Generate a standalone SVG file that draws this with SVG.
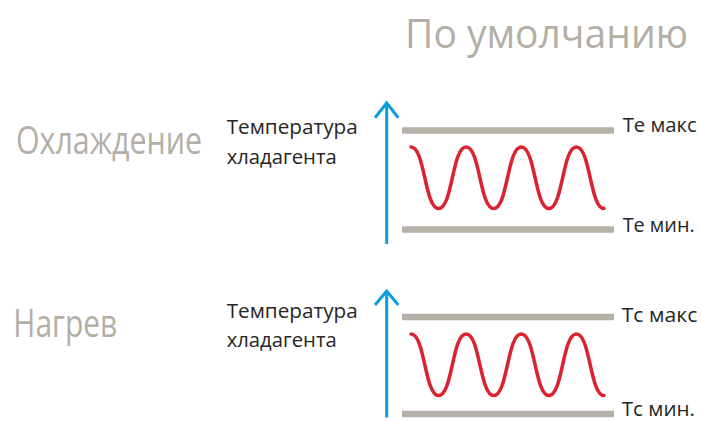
<svg xmlns="http://www.w3.org/2000/svg" width="701" height="421" viewBox="0 0 701 421">
  <style>
    .title { font-family: "Open Sans", "Noto Sans", "Liberation Sans", sans-serif; font-weight: 400; fill: #b3afa6; }
    .lbl { font-family: "Open Sans", "Noto Sans", "Liberation Sans", sans-serif; font-size: 20.5px; fill: #262626; }
    .bar { stroke: #b5b1a8; stroke-width: 6.5; fill: none; }
    .wave { stroke: #d9232e; stroke-width: 3.5; fill: none; stroke-linecap: round; }
    .axis { stroke: #0d9ddb; stroke-width: 3; fill: none; }
  </style>
  <defs>
    <path id="wavePath" d="M411,147 C425,147 424.6,208.5 438.6,208.5 S452.1,147 466.1,147 S479.7,208.5 493.7,208.5 S507.3,147 521.3,147 S534.9,208.5 548.9,208.5 S562.4,147 576.4,147 S590,208.5 604,208.5"/>
  </defs>

  <g id="header">
    <text class="title" x="405" y="48" font-size="41" textLength="283" lengthAdjust="spacingAndGlyphs">По умолчанию</text>
  </g>

  <g id="cooling">
    <text class="title" x="16" y="154" font-size="38" textLength="186" lengthAdjust="spacingAndGlyphs">Охлаждение</text>
    <text class="lbl" x="226.7" y="133.5" textLength="131" lengthAdjust="spacingAndGlyphs">Температура</text>
    <text class="lbl" x="226.7" y="164" textLength="110" lengthAdjust="spacingAndGlyphs">хладагента</text>
    <line class="bar" x1="402" y1="130.5" x2="614" y2="130.5"/>
    <line class="bar" x1="402" y1="229.5" x2="614" y2="229.5"/>
    <use href="#wavePath" class="wave"/>
    <text class="lbl" x="622.7" y="131.7" textLength="74" lengthAdjust="spacingAndGlyphs">Те макс</text>
    <text class="lbl" x="622.7" y="231.7" textLength="72" lengthAdjust="spacingAndGlyphs">Те мин.</text>
  </g>

  <g id="heating">
    <text class="title" x="13.3" y="336.7" font-size="38" textLength="104" lengthAdjust="spacingAndGlyphs">Нагрев</text>
    <text class="lbl" x="226.7" y="317.7" textLength="131" lengthAdjust="spacingAndGlyphs">Температура</text>
    <text class="lbl" x="226.7" y="347" textLength="110" lengthAdjust="spacingAndGlyphs">хладагента</text>
    <line class="bar" x1="402" y1="317" x2="614" y2="317"/>
    <line class="bar" x1="402" y1="414" x2="614" y2="414"/>
    <use href="#wavePath" class="wave" transform="translate(0,187)"/>
    <text class="lbl" x="621.7" y="322.3" textLength="75.6" lengthAdjust="spacingAndGlyphs">Тс макс</text>
    <text class="lbl" x="621.7" y="416" font-size="20" textLength="73.3" lengthAdjust="spacingAndGlyphs">Тс мин.</text>
  </g>

  <g id="connectors">
    <line class="axis" x1="386.7" y1="244" x2="386.7" y2="104"/>
    <polyline class="axis" points="375,117.7 386.7,103 398.3,117.7"/>
    <line class="axis" x1="386.7" y1="417.5" x2="386.7" y2="292"/>
    <polyline class="axis" points="375,305 386.7,291 398.3,305"/>
  </g>
</svg>
